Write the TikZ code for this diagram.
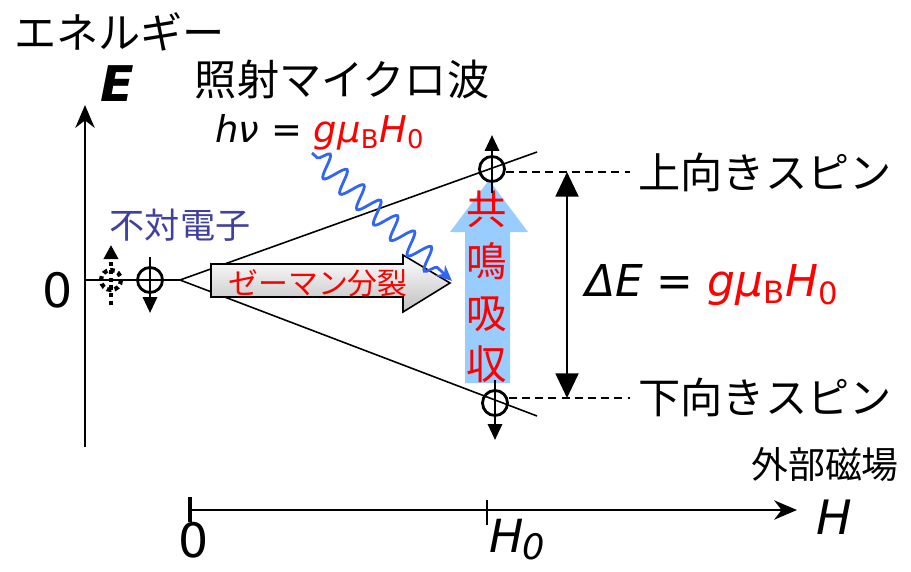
\documentclass[tikz,border=0pt]{standalone}
\usepackage{fontspec}
\setmainfont{DejaVu Sans}
\newfontfamily\jp{Noto Sans CJK JP}
\usetikzlibrary{arrows.meta, decorations.pathmorphing}
\definecolor{resblue}{RGB}{153,204,255}
\definecolor{waveblue}{RGB}{51,102,240}
\definecolor{unpaired}{RGB}{64,64,160}

\begin{document}
\begin{tikzpicture}[x=0.02cm, y=-0.02cm,
  jlabel/.style={font=\jp\fontsize{24}{28}\selectfont},
  latin/.style={font=\fontsize{27}{30}\selectfont},
  spin/.style={circle, draw, line width=1.6pt, minimum size=0.5cm, inner sep=0pt},
  spinarrow/.style={line width=1.5pt, -{Triangle[width=8pt,length=9pt]}},
  axisline/.style={line width=1.2pt, -{Stealth[length=13pt,width=11pt]}},
  level/.style={line width=0.9pt}
]
\useasboundingbox (0,0) rectangle (911,571);

% Energy axis
\coordinate (eorig) at (85,447);
\coordinate (etip) at (85,105);
\draw[axisline] (eorig) -- (etip);
\node[font=\fontsize{28}{30}\selectfont\bfseries\itshape] (elab) at (117,84) {E};
\node[jlabel, anchor=west] (energy) at (8,32) {エネルギー};
\node[latin] (ezero) at (58,290) {0};

% Field axis
\coordinate (horig) at (190,510);
\coordinate (htip) at (797,510);
\draw[axisline] (horig) -- (htip);
\draw[line width=2pt] (190,497) -- (190,522);
\draw[level] (487,500) -- (487,525);
\node[latin] (hzero) at (194,540) {0};
\node[latin, font=\fontsize{26}{28}\selectfont\itshape, inner sep=1pt] (hval) at (517,540) {H\kern-1pt\raisebox{-4pt}{\fontsize{20}{20}\selectfont 0}};
\node[latin, font=\fontsize{27}{30}\selectfont\itshape] (hlab) at (834,517) {H};
\node[jlabel, font=\jp\fontsize{21}{24}\selectfont] (field) at (825,465) {外部磁場};

% Resonance arrow
\fill[resblue] (465,383) -- (465,232) -- (450,232) -- (489,180) -- (528,232) -- (510,232) -- (510,383) -- cycle;
\node[red, font=\jp\fontsize{23}{29.5}\selectfont, align=center] (resonance) at (487,287) {共\\鳴\\吸\\収};

% Zeeman levels
\coordinate (apex) at (180,280);
\coordinate (upend) at (537,152);
\coordinate (dnend) at (537,416);
\draw[level] (eorig |- apex) -- (apex);
\draw[level] (apex) -- (upend);
\draw[level] (apex) -- (dnend);

% Zeeman splitting arrow
\draw[level, top color=white, bottom color=gray!50] (211,264) -- (403,264) -- (403,255) -- (450,283) -- (403,312) -- (403,297) -- (211,297) -- cycle;
\node[red, font=\jp\fontsize{17}{20}\selectfont] (zeeman) at (318,283) {ゼーマン分裂};

% Unpaired electron
\draw[dotted, line width=2.4pt] (111,280) circle (10);
\draw[dotted, line width=2.4pt, -{Triangle[width=8pt,length=8pt]}] (111,305) -- (111,245);
\node[spin] (spinzero) at (150,280) {};
\draw[spinarrow] (spinzero.center) ++(0,-23) -- ++(0,56);
\node[jlabel, font=\jp\fontsize{20}{24}\selectfont, unpaired] (unpairedlab) at (180,225) {不対電子};

% Microwave
\node[jlabel] (micro) at (342,80) {照射マイクロ波};
\node[font=\fontsize{21}{24}\selectfont\itshape] (hnu) at (320,132) {hν = \textcolor{red}{gμ\textsubscript{\upshape B}H\textsubscript{\upshape 0}}};
\coordinate (wstart) at (312,153);
\coordinate (wend) at (452,281);
\draw[waveblue, line width=1.6pt, -{Stealth[length=9pt,width=8pt]}, decorate,
  decoration={snake, amplitude=6.5pt, segment length=13pt, pre length=4pt, post length=10pt}] (wstart) -- (wend);

% Spins at H0
\node[spin] (spinup) at (492,169) {};
\draw[spinarrow] (spinup.center) ++(0,24) -- ++(0,-58);
\node[spin] (spindn) at (495,403) {};
\draw[spinarrow] (spindn.center) ++(0,-23) -- ++(0,60);

% Energy gap
\coordinate (detop) at (567,172);
\coordinate (debot) at (567,398);
\draw[level, dash pattern=on 4.5pt off 3pt] (spinup.east |- detop) -- (630,172);
\draw[level, dash pattern=on 4.5pt off 3pt] (spindn.east |- debot) -- (630,398);
\draw[line width=1.4pt, {Triangle[width=13pt,length=14pt]}-{Triangle[width=13pt,length=14pt]}] (detop) -- (debot);
\node[jlabel] (upspin) at (765,172) {上向きスピン};
\node[jlabel] (dnspin) at (765,397) {下向きスピン};
\node[font=\fontsize{25}{28}\selectfont\itshape] (gap) at (712,285) {ΔE = \textcolor{red}{gμ\textsubscript{\upshape B}H\textsubscript{\upshape 0}}};

\end{tikzpicture}
\end{document}
